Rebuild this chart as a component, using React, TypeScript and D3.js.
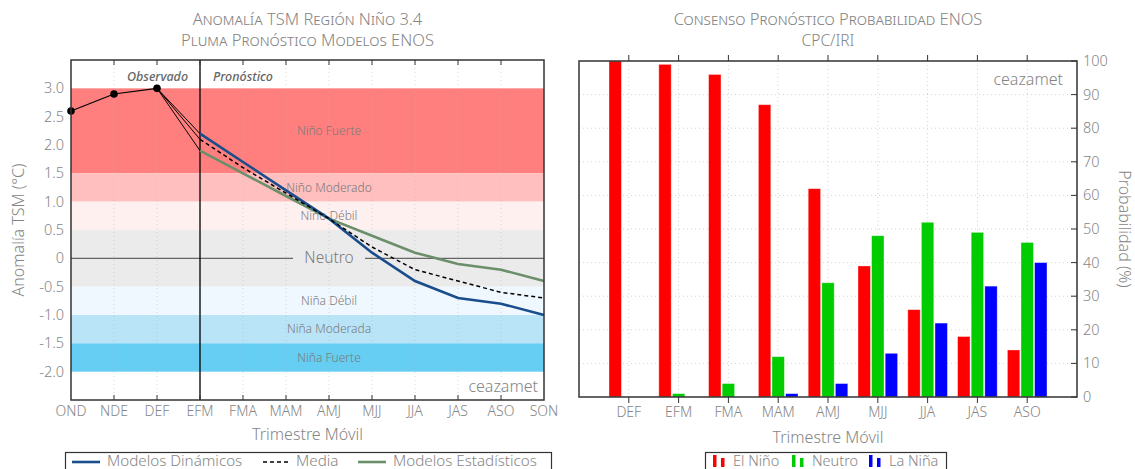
import React from "react";
import * as d3 from "d3";

// ---- Pluma (anomalía TSM Niño 3.4) ----
const trimestres = ["OND", "NDE", "DEF", "EFM", "FMA", "MAM", "AMJ", "MJJ", "JJA", "JAS", "ASO", "SON"];
const observado = [2.6, 2.9, 3.0]; // OND, NDE, DEF
const pronosticoMeses = ["EFM", "FMA", "MAM", "AMJ", "MJJ", "JJA", "JAS", "ASO", "SON"];
const dinamicos = [2.2, 1.7, 1.2, 0.7, 0.1, -0.4, -0.7, -0.8, -1.0];
const estadisticos = [1.9, 1.5, 1.1, 0.7, 0.4, 0.1, -0.1, -0.2, -0.4];
const media = [2.1, 1.6, 1.15, 0.7, 0.2, -0.2, -0.4, -0.6, -0.7];
const yTicksPluma = [3.0, 2.5, 2.0, 1.5, 1.0, 0.5, 0, -0.5, -1.0, -1.5, -2.0];

const bandas = [
  { lo: 1.5, hi: 3.0, color: "#ff7f7f", label: "Niño Fuerte" },
  { lo: 1.0, hi: 1.5, color: "#ffbfbf", label: "Niño Moderado" },
  { lo: 0.5, hi: 1.0, color: "#fff0f0", label: "Niño Débil" },
  { lo: -0.5, hi: 0.5, color: "#ebebeb", label: "" },
  { lo: -1.0, hi: -0.5, color: "#f0f8ff", label: "Niña Débil" },
  { lo: -1.5, hi: -1.0, color: "#b9e4f8", label: "Niña Moderada" },
  { lo: -2.0, hi: -1.5, color: "#66cdf3", label: "Niña Fuerte" },
];

// ---- Consenso probabilístico CPC/IRI ----
const trimestresProb = ["DEF", "EFM", "FMA", "MAM", "AMJ", "MJJ", "JJA", "JAS", "ASO"];
const probNino = [100, 99, 96, 87, 62, 39, 26, 18, 14];
const probNeutro = [0, 1, 4, 12, 34, 48, 52, 49, 46];
const probNina = [0, 0, 0, 1, 4, 13, 22, 33, 40];
const yTicksProb = [0, 10, 20, 30, 40, 50, 60, 70, 80, 90, 100];

const FONT = "'Noto Sans', 'Open Sans', sans-serif";
const GRAY = "#858585";
const AXIS = "#333";
const TITLE = 16.5;

function Pluma() {
  const L = 71, R = 544, T = 60, B = 400;
  const x = d3.scalePoint<string>().domain(trimestres).range([L, R]);
  const y = d3.scaleLinear().domain([-2.5, 3.5]).range([B, T]);
  const line = d3
    .line<[string, number]>()
    .x((d) => x(d[0])!)
    .y((d) => y(d[1]));
  const obsPts: [string, number][] = observado.map((v, i) => [trimestres[i], v]);
  const serie = (vals: number[]) => vals.map((v, i) => [pronosticoMeses[i], v] as [string, number]);
  const xEFM = x("EFM")!;
  const xDEF = x("DEF")!;
  const labelX = x("AMJ")!;
  const neutroW = 72;
  return (
    <g fontFamily={FONT} fontWeight={300}>
      <text x={(L + R) / 2} y={25} textAnchor="middle" fontSize={TITLE} fill={GRAY} style={{ fontVariant: "small-caps" }}>
        Anomalía TSM Región Niño 3.4
      </text>
      <text x={(L + R) / 2} y={46} textAnchor="middle" fontSize={TITLE} fill={GRAY} style={{ fontVariant: "small-caps" }}>
        Pluma Pronóstico Modelos ENOS
      </text>
      {/* bandas de intensidad */}
      {bandas.map((b) => (
        <rect key={b.color} x={L} width={R - L} y={y(b.hi)} height={y(b.lo) - y(b.hi)} fill={b.color} />
      ))}
      {/* grilla vertical */}
      {trimestres.slice(1, -1).map((t) => (
        <line key={t} x1={x(t)} x2={x(t)} y1={T} y2={B} stroke="#bbb" strokeWidth={0.8} strokeDasharray="1,3" opacity={0.7} />
      ))}
      {bandas
        .filter((b) => b.label)
        .map((b) => (
          <text key={b.label} x={labelX} y={y((b.lo + b.hi) / 2) + 4} textAnchor="middle" fontSize={12} fill="#7a7a7a">
            {b.label}
          </text>
        ))}
      {/* línea cero con etiqueta Neutro */}
      <line x1={L} x2={labelX - neutroW / 2} y1={y(0)} y2={y(0)} stroke="#666" strokeWidth={1.2} />
      <line x1={labelX + neutroW / 2} x2={R} y1={y(0)} y2={y(0)} stroke="#666" strokeWidth={1.2} />
      <text x={labelX} y={y(0) + 5} textAnchor="middle" fontSize={15.5} fill="#7a7a7a">
        Neutro
      </text>
      {/* separación observado / pronóstico */}
      <line x1={xEFM} x2={xEFM} y1={T} y2={B} stroke="#000" strokeWidth={1.3} />
      <text x={xDEF + 31} y={81} textAnchor="end" fontSize={12.5} fontStyle="italic" fontWeight={500} fill="#666">
        Observado
      </text>
      <text x={xEFM + 13} y={81} fontSize={12.5} fontStyle="italic" fontWeight={500} fill="#666">
        Pronóstico
      </text>
      {/* enlaces desde el último observado */}
      {[dinamicos[0], media[0], estadisticos[0]].map((v, i) => (
        <line key={i} x1={xDEF} y1={y(observado[2])} x2={xEFM} y2={y(v)} stroke="#000" strokeWidth={1} />
      ))}
      <path d={line(serie(estadisticos))!} fill="none" stroke="#6b8f6b" strokeWidth={2.6} />
      <path d={line(serie(dinamicos))!} fill="none" stroke="#1a4d8c" strokeWidth={2.6} />
      <path d={line(serie(media))!} fill="none" stroke="#000" strokeWidth={1.5} strokeDasharray="4,3" />
      <path d={line(obsPts)!} fill="none" stroke="#000" strokeWidth={1.2} />
      {obsPts.map((p) => (
        <circle key={p[0]} cx={x(p[0])} cy={y(p[1])} r={3.8} fill="#000" />
      ))}
      <text x={R - 6} y={y(-2.25) + 6} textAnchor="end" fontSize={16} fill={GRAY}>
        ceazamet
      </text>
      {/* marco y marcas */}
      <rect x={L} y={T} width={R - L} height={B - T} fill="none" stroke={AXIS} strokeWidth={1.5} />
      {trimestres.slice(1, -1).map((t) => (
        <g key={t}>
          <line x1={x(t)} x2={x(t)} y1={T} y2={T + 5} stroke={AXIS} strokeWidth={1} />
          <line x1={x(t)} x2={x(t)} y1={B} y2={B - 5} stroke={AXIS} strokeWidth={1} />
        </g>
      ))}
      {yTicksPluma.map((v) => (
        <text key={v} x={L - 7} y={y(v) + 5} textAnchor="end" fontSize={14.5} fill={GRAY}>
          {v === 0 ? "0" : v.toFixed(1)}
        </text>
      ))}
      {trimestres.map((t) => (
        <text key={t} x={x(t)} y={416} textAnchor="middle" fontSize={14} fill={GRAY}>
          {t}
        </text>
      ))}
      <text x={(L + R) / 2} y={440} textAnchor="middle" fontSize={16} fill={GRAY}>
        Trimestre Móvil
      </text>
      <text transform={`translate(24,${(T + B) / 2}) rotate(-90)`} textAnchor="middle" fontSize={16} fill={GRAY}>
        Anomalía TSM (°C)
      </text>
      {/* leyenda */}
      <rect x={65.5} y={452.5} width={486} height={30} fill="#fff" stroke={AXIS} strokeWidth={1.2} />
      <line x1={72} x2={100} y1={462} y2={462} stroke="#1a4d8c" strokeWidth={2.6} />
      <text x={107} y={466} fontSize={15.2} fill={GRAY}>Modelos Dinámicos</text>
      <line x1={263} x2={289} y1={462} y2={462} stroke="#000" strokeWidth={1.5} strokeDasharray="4,3" />
      <text x={296} y={466} fontSize={15.2} fill={GRAY}>Media</text>
      <line x1={358} x2={386} y1={462} y2={462} stroke="#6b8f6b" strokeWidth={2.6} />
      <text x={393} y={466} fontSize={15.2} fill={GRAY}>Modelos Estadísticos</text>
    </g>
  );
}

function Probabilidad() {
  const L = 579, R = 1077, T = 61, B = 397;
  const x = d3.scaleLinear().domain([0, trimestresProb.length + 1]).range([L, R]);
  const y = d3.scaleLinear().domain([0, 100]).range([B, T]);
  const barW = 12.4;
  const step = 13.6;
  const series = [
    { vals: probNino, color: "#ff0000", off: -step, label: "El Niño" },
    { vals: probNeutro, color: "#00cc00", off: 0, label: "Neutro" },
    { vals: probNina, color: "#0000ff", off: step, label: "La Niña" },
  ];
  const legendX = [713, 792, 869];
  return (
    <g fontFamily={FONT} fontWeight={300}>
      <text x={(L + R) / 2} y={25} textAnchor="middle" fontSize={TITLE} fill={GRAY} style={{ fontVariant: "small-caps" }}>
        Consenso Pronóstico Probabilidad ENOS
      </text>
      <text x={(L + R) / 2} y={46} textAnchor="middle" fontSize={15.5} fill={GRAY}>
        CPC/IRI
      </text>
      {/* grilla */}
      {yTicksProb.slice(1, -1).map((v) => (
        <line key={v} x1={L} x2={R} y1={y(v)} y2={y(v)} stroke="#c8c8c8" strokeWidth={0.8} strokeDasharray="1,3" />
      ))}
      {trimestresProb.map((t, i) => (
        <line key={t} x1={x(i + 1)} x2={x(i + 1)} y1={T} y2={B} stroke="#c8c8c8" strokeWidth={0.8} strokeDasharray="1,3" />
      ))}
      {/* barras */}
      {series.map((s) =>
        s.vals.map((v, i) =>
          v > 0 ? (
            <rect
              key={s.label + i}
              x={x(i + 1) + s.off - barW / 2}
              width={barW}
              y={y(v)}
              height={y(0) - y(v)}
              fill={s.color}
              stroke="#fff"
              strokeOpacity={0.45}
              strokeWidth={0.8}
            />
          ) : null
        )
      )}
      <text x={R - 14} y={85} textAnchor="end" fontSize={16} fill={GRAY}>
        ceazamet
      </text>
      {/* marco y marcas */}
      <rect x={L} y={T} width={R - L} height={B - T} fill="none" stroke={AXIS} strokeWidth={1.5} />
      {trimestresProb.map((t, i) => (
        <g key={t}>
          <line x1={x(i + 1)} x2={x(i + 1)} y1={T} y2={T - 6} stroke={AXIS} strokeWidth={1} />
          <line x1={x(i + 1)} x2={x(i + 1)} y1={B} y2={B + 6} stroke={AXIS} strokeWidth={1} />
          <text x={x(i + 1)} y={417} textAnchor="middle" fontSize={14} fill={GRAY}>
            {t}
          </text>
        </g>
      ))}
      {yTicksProb.map((v) => (
        <g key={v}>
          <line x1={R} x2={R - 6} y1={y(v)} y2={y(v)} stroke={AXIS} strokeWidth={1} />
          <text x={R + 6} y={y(v) + 5} fontSize={14.5} fill={GRAY}>
            {v}
          </text>
        </g>
      ))}
      <text x={(L + R) / 2} y={443} textAnchor="middle" fontSize={16} fill={GRAY}>
        Trimestre Móvil
      </text>
      <text transform={`translate(1119,${(T + B) / 2}) rotate(90)`} textAnchor="middle" fontSize={16} fill={GRAY}>
        Probabilidad (%)
      </text>
      {/* leyenda */}
      <rect x={705.5} y={452.5} width={241} height={30} fill="#fff" stroke={AXIS} strokeWidth={1.2} />
      {series.map((s, k) => (
        <g key={s.label}>
          <rect x={legendX[k]} y={455} width={3.5} height={12} fill={s.color} />
          <rect x={legendX[k] + 8} y={458} width={3.5} height={9} fill={s.color} />
          <text x={legendX[k] + 20} y={466} fontSize={14.5} fill={GRAY}>
            {s.label}
          </text>
        </g>
      ))}
    </g>
  );
}

export default function App() {
  return (
    <svg
      width={1135}
      height={469}
      viewBox="0 0 1135 469"
      style={{ position: "absolute", left: 0, top: 0, background: "#fff" }}
    >
      <Pluma />
      <Probabilidad />
    </svg>
  );
}
